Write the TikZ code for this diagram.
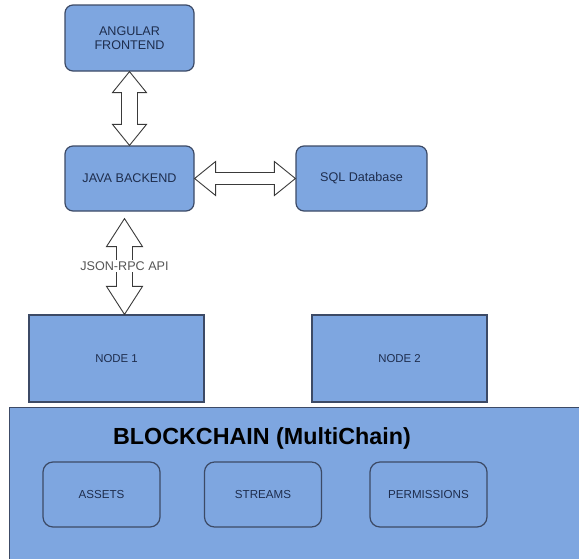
\documentclass[tikz,border=0pt]{standalone}
\usepackage{fontspec}
\setmainfont{Liberation Sans}
\usetikzlibrary{calc}
\definecolor{boxfill}{HTML}{7EA6E0}
\definecolor{boxline}{HTML}{3C4A66}
\definecolor{boxtext}{HTML}{1E2D4D}
\definecolor{arrowline}{HTML}{3A3A3A}
\definecolor{labeltext}{HTML}{555555}
\begin{document}
\begin{tikzpicture}[x=1pt,y=-1pt,
  base/.style={fill=boxfill, draw=boxline, line width=1.2pt, text=boxtext, align=center, inner sep=2pt},
  roundbox/.style={base, rounded corners=8pt, minimum width=129pt, minimum height=65pt, font=\fontsize{12.6}{14.5}\selectfont},
  flatbox/.style={base, minimum width=175pt, minimum height=87pt, font=\fontsize{11.4}{13}\selectfont},
  innerbox/.style={base, rounded corners=10pt, minimum width=117pt, minimum height=65pt, font=\fontsize{11.6}{13}\selectfont},
  dblarrow/.style={draw=arrowline, fill=white, line width=0.9pt, line join=miter},
  apilabel/.style={fill=white, text=labeltext, inner sep=1.5pt, font=\fontsize{12.6}{14}\selectfont}]
\useasboundingbox (0,0) rectangle (579,558);

\node[roundbox, minimum height=66pt] (af) at (129.5,38) {ANGULAR\\FRONTEND};
\node[roundbox] (jb) at (129.5,178.5) {JAVA BACKEND};
\node[roundbox, minimum width=131pt] (db) at (361.5,178.5) {SQL Database};

\node[flatbox] (n1) at (116.5,358.5) {NODE 1};
\node[flatbox] (n2) at (399.5,358.5) {NODE 2};

\node[base, anchor=north west, minimum width=580pt, minimum height=155pt] (bc) at (9,407) {};
\node[text=black, font=\bfseries\fontsize{23.3}{26}\selectfont, inner sep=0pt] (bct) at (262,438) {BLOCKCHAIN (MultiChain)};
\node[innerbox] (as) at (101.5,494.5) {ASSETS};
\node[innerbox] (st) at (263,494.5) {STREAMS};
\node[innerbox] (pm) at (428.5,494.5) {PERMISSIONS};

% Angular <-> Java
\draw[dblarrow] (af.south) -- ++(17,21) -- ++(-9,0) -- ($(jb.north)+(8,-21)$) -- ++(9,0) -- (jb.north)
  -- ++(-17,-21) -- ++(9,0) -- ($(af.south)+(-8,21)$) -- ++(-9,0) -- cycle;

% Java <-> SQL
\draw[dblarrow] (jb.east) -- ++(21,-17) -- ++(0,11) -- ($(db.west)+(-21,-6)$) -- ++(0,-11) -- (db.west)
  -- ++(-21,17) -- ++(0,-11) -- ($(jb.east)+(21,6)$) -- ++(0,11) -- cycle;

% Java <-> Node 1 (JSON-RPC)
\coordinate (t3) at ($(jb.south)+(-5,7)$);
\coordinate (b3) at (t3 |- n1.north);
\draw[dblarrow] (t3) -- ++(18,28) -- ++(-10,0) -- ($(b3)+(8,-28)$) -- ++(10,0) -- (b3)
  -- ++(-18,-28) -- ++(10,0) -- ($(t3)+(-8,28)$) -- ++(-10,0) -- cycle;
\node[apilabel] (api) at ($(t3)!0.495!(b3)$) {JSON-RPC API};
\end{tikzpicture}
\end{document}
